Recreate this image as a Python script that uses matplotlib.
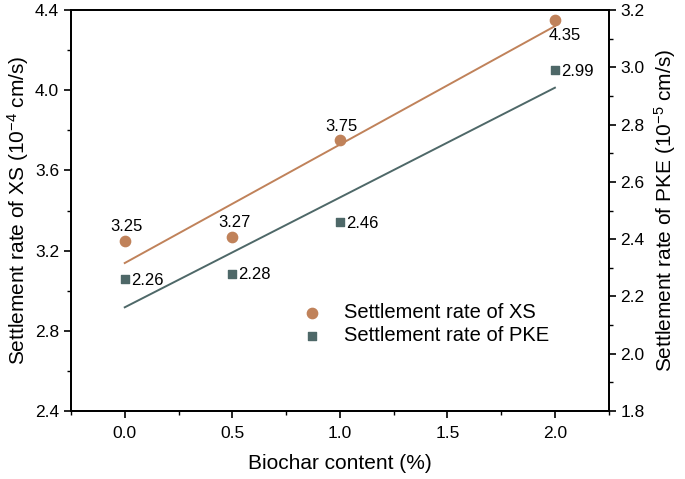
import numpy as np
import matplotlib.pyplot as plt
from matplotlib.ticker import MultipleLocator

plt.rcParams['font.family'] = ['Liberation Sans', 'DejaVu Sans']
plt.rcParams['mathtext.fontset'] = 'custom'
plt.rcParams['mathtext.rm'] = 'Liberation Sans'
plt.rcParams['mathtext.it'] = 'Liberation Sans'
plt.rcParams['mathtext.default'] = 'regular'

# data
biochar = np.array([0.0, 0.5, 1.0, 2.0])
xs_rate = np.array([3.25, 3.27, 3.75, 4.35])    # 10^-4 cm/s
pke_rate = np.array([2.26, 2.28, 2.46, 2.99])   # 10^-5 cm/s
xs_labels = ["3.25", "3.27", "3.75", "4.35"]
pke_labels = ["2.26", "2.28", "2.46", "2.99"]

c_xs = "#C0825A"
c_pke = "#4E6868"

fig = plt.figure(figsize=(6.85, 4.79), dpi=100)
ax = fig.add_axes([0.1036, 0.142, 0.785, 0.837])
ax2 = ax.twinx()

# linear fits
xfit = np.array([biochar.min(), biochar.max()])
p_xs = np.polyfit(biochar, xs_rate, 1)
p_pke = np.polyfit(biochar, pke_rate, 1)
ax.plot(xfit, np.polyval(p_xs, xfit), color=c_xs, lw=1.4, zorder=2)
ax2.plot(xfit, np.polyval(p_pke, xfit), color=c_pke, lw=1.4, zorder=2)

h1 = ax.scatter(biochar, xs_rate, s=55, marker='o', color=c_xs, zorder=3,
                label="Settlement rate of XS")
h2 = ax2.scatter(biochar, pke_rate, s=40, marker='s', color=c_pke, zorder=3,
                 label="Settlement rate of PKE")

# value labels
for i, (x, y) in enumerate(zip(biochar, xs_rate)):
    if i == len(biochar) - 1:
        ax.annotate(xs_labels[i], (x, y), xytext=(7, -11), textcoords='offset points',
                    ha='center', va='center', fontsize=12)
    else:
        ax.annotate(xs_labels[i], (x, y), xytext=(1.5, 10), textcoords='offset points',
                    ha='center', va='center', fontsize=12)
for i, (x, y) in enumerate(zip(biochar, pke_rate)):
    ax2.annotate(pke_labels[i], (x, y), xytext=(4.5, -1), textcoords='offset points',
                 ha='left', va='center', fontsize=12)

ax.set_xlim(-0.25, 2.25)
ax.set_ylim(2.4, 4.4)
ax2.set_ylim(1.8, 3.2)

ax.xaxis.set_major_locator(MultipleLocator(0.5))
ax.xaxis.set_minor_locator(MultipleLocator(0.25))
ax.yaxis.set_major_locator(MultipleLocator(0.4))
ax.yaxis.set_minor_locator(MultipleLocator(0.2))
ax2.yaxis.set_major_locator(MultipleLocator(0.2))
ax2.yaxis.set_minor_locator(MultipleLocator(0.1))
ax.xaxis.set_major_formatter('{x:.1f}')
ax.yaxis.set_major_formatter('{x:.1f}')
ax2.yaxis.set_major_formatter('{x:.1f}')

for a in (ax, ax2):
    a.tick_params(which='major', direction='out', length=5, width=1.2, labelsize=12.5)
    a.tick_params(which='minor', direction='out', length=3, width=1.0)
    for s in a.spines.values():
        s.set_linewidth(1.3)
ax.tick_params(axis='x', pad=6)

ax.set_xlabel("Biochar content (%)", fontsize=15, labelpad=9)
ax.set_ylabel(r"Settlement rate of XS (10$^{-4}$ cm/s)", fontsize=15, labelpad=3)
ax2.set_ylabel(r"Settlement rate of PKE (10$^{-5}$ cm/s)", fontsize=15, labelpad=5)

ax2.legend(handles=[h1, h2], loc='center left', bbox_to_anchor=(0.378, 0.217),
           frameon=False, fontsize=14.5, handletextpad=0.55, labelspacing=0.2,
           markerscale=1.0)

fig.savefig("out.png", dpi=100)
